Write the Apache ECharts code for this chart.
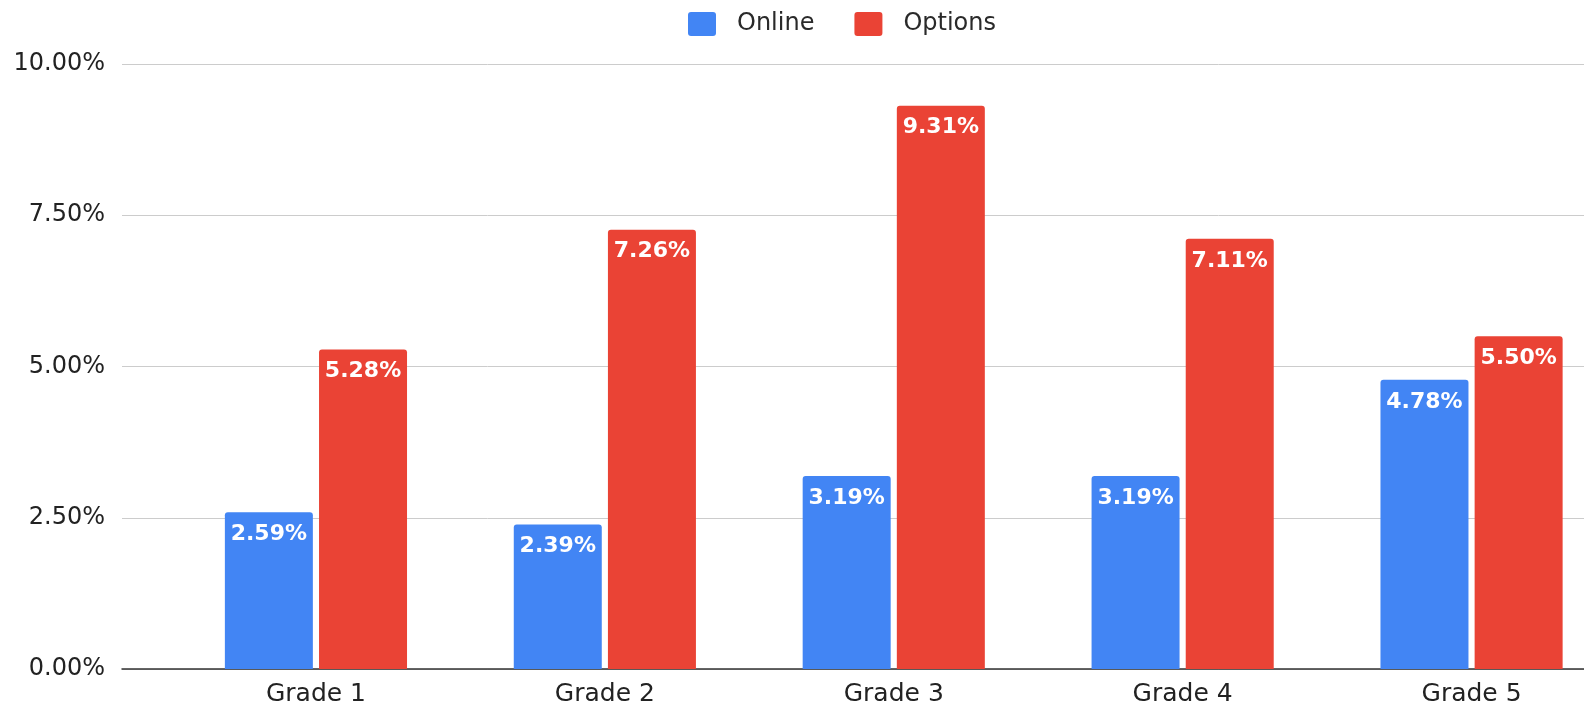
<!DOCTYPE html>
<html>
<head>
<meta charset="utf-8">
<script src="https://cdn.jsdelivr.net/npm/echarts@6/dist/echarts.min.js"></script>
<style>
html,body{margin:0;padding:0;background:#fff;}
#chart{width:1584px;height:705px;}
</style>
</head>
<body>
<div id="chart"></div>
<script>
const categories = ['Grade 1', 'Grade 2', 'Grade 3', 'Grade 4', 'Grade 5'];
const onlineValues = [2.59, 2.39, 3.19, 3.19, 4.78];
const optionsValues = [5.28, 7.26, 9.31, 7.11, 5.50];
const seriesNames = ['Online', 'Options'];
const yMin = 0, yMax = 10, yInterval = 2.5;

const FONT = '"DejaVu Sans", sans-serif';
const chart = echarts.init(document.getElementById('chart'));
const barLabel = {
  show: true,
  position: 'insideTop',
  distance: 11,
  color: '#fff',
  fontFamily: FONT,
  fontWeight: 'bold',
  fontSize: 22,
  formatter: p => p.value.toFixed(2) + '%'
};
chart.setOption({
  animation: false,
  backgroundColor: '#fff',
  legend: {
    data: seriesNames,
    left: 683, top: 7,
    itemWidth: 28, itemHeight: 24, itemGap: 40,
    icon: 'path://M3,0 H25 Q28,0 28,3 V21 Q28,24 25,24 H3 Q0,24 0,21 V3 Q0,0 3,0 Z',
    textStyle: { fontFamily: FONT, fontSize: 24, color: '#2a2a2a', padding: [0, 0, 0, 16] }
  },
  grid: [
    { left: 171.5, width: 1444.5, top: 64, bottom: 36, outerBoundsMode: 'none', containLabel: false },
    { left: 122, right: 0, top: 64, bottom: 36, outerBoundsMode: 'none', containLabel: false }
  ],
  xAxis: [
    {
      type: 'category', gridIndex: 0, data: categories,
      axisLine: { show: false }, axisTick: { show: false },
      axisLabel: { fontFamily: FONT, fontSize: 25, color: '#222', margin: 13 }
    },
    {
      type: 'value', gridIndex: 1, min: 0, max: 1,
      axisLine: { show: true, onZero: false, lineStyle: { color: '#333', width: 1.5 } },
      axisTick: { show: false }, axisLabel: { show: false }, splitLine: { show: false }
    }
  ],
  yAxis: [
    { type: 'value', gridIndex: 0, min: yMin, max: yMax, interval: yInterval, show: false },
    {
      type: 'value', gridIndex: 1, min: yMin, max: yMax, interval: yInterval,
      axisLine: { show: false }, axisTick: { show: false },
      axisLabel: { fontFamily: FONT, fontSize: 24, color: '#222', margin: 17,
        formatter: v => v.toFixed(2) + '%' },
      splitLine: { lineStyle: { color: '#cccccc', width: 1 } }
    }
  ],
  series: [
    {
      name: seriesNames[0], type: 'bar', xAxisIndex: 0, yAxisIndex: 0,
      data: onlineValues, barWidth: 88, barGap: '7%',
      itemStyle: { color: '#4285F4', borderRadius: [3, 3, 0, 0] },
      label: barLabel
    },
    {
      name: seriesNames[1], type: 'bar', xAxisIndex: 0, yAxisIndex: 0,
      data: optionsValues, barWidth: 88, barGap: '7%',
      itemStyle: { color: '#EA4335', borderRadius: [3, 3, 0, 0] },
      label: barLabel
    }
  ]
});
</script>
</body>
</html>
